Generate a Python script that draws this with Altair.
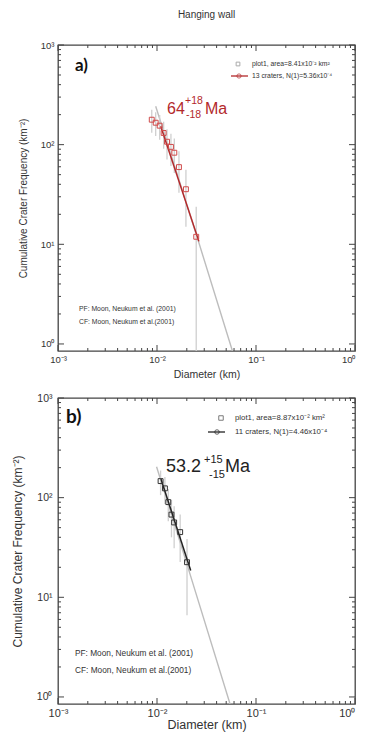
import altair as alt
import pandas as pd

FONT = "Liberation Sans"

# ---------------- data ----------------
# panel a  (Hanging wall, area 8.41e-2 km^2)
a_diam = [0.00885, 0.0097, 0.01064, 0.01167, 0.01262, 0.01383, 0.01496, 0.01666, 0.0196, 0.0249]
a_freq = [178, 166, 155, 131, 107, 95, 83, 59.5, 35.7, 11.9]
a_err_lo = [132, 122, 112, 91, 71, 61, 52, 33, 15, 0.5]
a_err_hi = [224, 211, 198, 170, 143, 129, 115, 86, 56, 23.8]
a_fit_d = [0.0109, 0.0265]
a_fit_n = [153, 10.7]
a_pf_d = [0.0097, 0.0263, 0.0578]
a_pf_n = [243, 10.6, 0.85]

# panel b  (area 8.87e-2 km^2)
b_diam = [0.01087, 0.01202, 0.0130, 0.0140, 0.0149, 0.01714, 0.0201]
b_freq = [146.6, 124, 90.2, 67.6, 56.4, 45.1, 22.5]
b_err_lo = [106, 86.6, 58, 40, 31, 22.6, 6.6]
b_err_hi = [187, 161, 122, 95, 82, 67.6, 38.4]
b_fit_d = [0.01096, 0.0219]
b_fit_n = [154, 18.6]
b_pf_d = [0.0099, 0.0201, 0.0547]
b_pf_n = [204, 21.4, 0.85]

x_major = [0.001, 0.01, 0.1, 1]
x_minor = [k * d for d in (0.001, 0.01, 0.1) for k in range(2, 10)]
y_major = [1, 10, 100, 1000]
y_minor = [k * d for d in (1, 10, 100) for k in range(2, 10)]
x_labels = ["10⁻³", "10⁻²", "10⁻¹", "10⁰"]
y_labels = ["10⁰", "10¹", "10²", "10³"]

# ---------------- layout ----------------
W, H = 297, 306
xs = alt.Scale(type="log", domain=[0.001, 1], nice=False)
ys = alt.Scale(type="log", domain=[0.85, 1000], nice=False)

x_expr = "[" + ",".join("'%s'" % s for s in x_labels) + "][round(log(datum.value)/LN10)+3]"
y_expr = "[" + ",".join("'%s'" % s for s in y_labels) + "][round(log(datum.value)/LN10)]"


def make_axes(xl, yl, xt, yt, xlp, ylp, xtp, ytp):
    xaxis = alt.Axis(values=x_major, labelExpr=x_expr, ticks=False, domain=False, grid=False,
                     labelFont=FONT, labelFontSize=xl, labelColor="#333", labelPadding=xlp,
                     labelOverlap=False, labelFlush=False,
                     labelAlign={"condition": {"test": "datum.value == 1", "value": "right"},
                                 "value": "center"},
                     title="Diameter (km)", titleFont=FONT, titleFontSize=xt,
                     titleFontWeight="normal", titleColor="#333", titlePadding=xtp)
    yaxis = alt.Axis(values=y_major, labelExpr=y_expr, ticks=False, domain=False, grid=False,
                     labelFont=FONT, labelFontSize=yl, labelColor="#333", labelPadding=ylp,
                     labelOverlap=False,
                     title="Cumulative Crater Frequency (km⁻²)", titleFont=FONT,
                     titleFontSize=yt, titleFontWeight="normal", titleColor="#333",
                     titlePadding=ytp)
    return xaxis, yaxis


def txt(s, x, y, size, color="#333", weight="normal", baseline="alphabetic", font=FONT):
    return alt.Chart(alt.Data(values=[{}])).mark_text(
        text=s, align="left", baseline=baseline, fontSize=size, color=color,
        fontWeight=weight, font=font).encode(x=alt.value(x), y=alt.value(y))


def panel(diam, freq, lo, hi, fit_d, fit_n, pf_d, pf_n, fit_color, mcolor, axes, extra):
    xaxis, yaxis = axes
    X = alt.X("x:Q", scale=xs, axis=xaxis)
    Y = alt.Y("y:Q", scale=ys, axis=yaxis)
    pts = pd.DataFrame({"x": diam, "y": freq, "lo": lo, "hi": hi})
    layers = []
    layers.append(alt.Chart(pd.DataFrame({"x": pf_d, "y": pf_n}))
                  .mark_line(color="#bdbdbd", strokeWidth=1.4, clip=True).encode(x=X, y=Y))
    layers.append(alt.Chart(pts).mark_rule(color="#cfcfcf", strokeWidth=1.3, clip=True)
                  .encode(x=X, y=alt.Y("lo:Q", scale=ys, axis=yaxis), y2="hi:Q"))
    layers.append(alt.Chart(pd.DataFrame({"x": fit_d, "y": fit_n}))
                  .mark_line(color=fit_color, strokeWidth=1.5, clip=True).encode(x=X, y=Y))
    layers.append(alt.Chart(pts).mark_point(shape="square", filled=False, size=24,
                                            strokeWidth=1, color=mcolor, opacity=1)
                  .encode(x=X, y=Y))
    # inward ticks on all four sides
    for vals, ln in ((x_major, 6), (x_minor, 3)):
        base = alt.Chart(pd.DataFrame({"x": vals})).mark_rule(color="#444", strokeWidth=1)
        layers.append(base.encode(x=X, y=alt.value(H), y2=alt.value(H - ln)))
        layers.append(base.encode(x=X, y=alt.value(0), y2=alt.value(ln)))
    for vals, ln in ((y_major, 6), (y_minor, 3)):
        base = alt.Chart(pd.DataFrame({"y": vals})).mark_rule(color="#444", strokeWidth=1)
        layers.append(base.encode(y=Y, x=alt.value(0), x2=alt.value(ln)))
        layers.append(base.encode(y=Y, x=alt.value(W), x2=alt.value(W - ln)))
    layers.extend(extra)
    return alt.layer(*layers).properties(width=W, height=H)


RED = "#b3292b"

# ---- panel a annotations ----
a_extra = [
    txt("a)", 17, 26, 17, color="#111", weight="bold", font="Lato"),
    txt("64", 109, 69, 16, color=RED),
    txt("+18", 127, 56, 10.5, color=RED, baseline="middle"),
    txt("-18", 128, 70, 10.5, color=RED, baseline="middle"),
    txt("Ma", 147, 69, 16, color=RED),
    alt.Chart(alt.Data(values=[{}])).mark_point(shape="square", filled=False, size=14,
                                                color="#888", strokeWidth=1)
    .encode(x=alt.value(180), y=alt.value(19)),
    txt("plot1, area=8.41x10⁻² km²", 194, 19, 6.8, baseline="middle"),
    alt.Chart(alt.Data(values=[{}])).mark_rule(color=RED, strokeWidth=1.3)
    .encode(x=alt.value(173), x2=alt.value(190), y=alt.value(31)),
    alt.Chart(alt.Data(values=[{}])).mark_point(shape="circle", filled=False, size=18,
                                                color=RED, strokeWidth=1)
    .encode(x=alt.value(181), y=alt.value(31)),
    txt("13 craters, N(1)=5.36x10⁻⁴", 194, 31, 6.8, baseline="middle"),
    txt("PF: Moon, Neukum et al. (2001)", 21, 264, 6.8, baseline="middle"),
    txt("CF: Moon, Neukum et al.(2001)", 21, 277, 6.8, baseline="middle"),
]

# ---- panel b annotations ----
b_extra = [
    txt("b)", 8, 25, 19, color="#111", weight="bold", font="Lato"),
    txt("53.2", 108, 74, 18, color="#222"),
    txt("+15", 146, 62, 11, color="#222", baseline="middle"),
    txt("-15", 151, 77, 11, color="#222", baseline="middle"),
    txt("Ma", 167, 74, 18, color="#222"),
    alt.Chart(alt.Data(values=[{}])).mark_point(shape="square", filled=False, size=20,
                                                color="#444", strokeWidth=1)
    .encode(x=alt.value(163), y=alt.value(20)),
    txt("plot1, area=8.87x10⁻² km²", 177, 20, 7.8, baseline="middle"),
    alt.Chart(alt.Data(values=[{}])).mark_rule(color="#222", strokeWidth=1.3)
    .encode(x=alt.value(150), x2=alt.value(167), y=alt.value(34)),
    alt.Chart(alt.Data(values=[{}])).mark_point(shape="circle", filled=False, size=20,
                                                color="#222", strokeWidth=1)
    .encode(x=alt.value(159), y=alt.value(34)),
    txt("11 craters, N(1)=4.46x10⁻⁴", 177, 34, 7.8, baseline="middle"),
    txt("PF: Moon, Neukum et al. (2001)", 17, 256, 8.3, baseline="middle"),
    txt("CF: Moon, Neukum et al.(2001)", 17, 273, 8.3, baseline="middle"),
]

pa = panel(a_diam, a_freq, a_err_lo, a_err_hi, a_fit_d, a_fit_n, a_pf_d, a_pf_n,
           RED, "#cf4a4a", make_axes(9.5, 9.5, 10.5, 10, 3, 4, 6, 12), a_extra).properties(
    title=alt.TitleParams("Hanging wall", font=FONT, fontSize=10, fontWeight="normal",
                          color="#333", offset=20, anchor="middle"))

pb = panel(b_diam, b_freq, b_err_lo, b_err_hi, b_fit_d, b_fit_n, b_pf_d, b_pf_n,
           "#222", "#333", make_axes(11, 10.5, 12.5, 12, 3, 6, 0, 12), b_extra)

chart = alt.vconcat(pa, pb, spacing=47, bounds="flush").properties(
    padding={"left": 2, "top": 1, "right": 0, "bottom": 0}
).configure_view(stroke="#444", strokeWidth=1.3)

chart.save("out.html", embed_options={"renderer": "svg", "actions": False})
